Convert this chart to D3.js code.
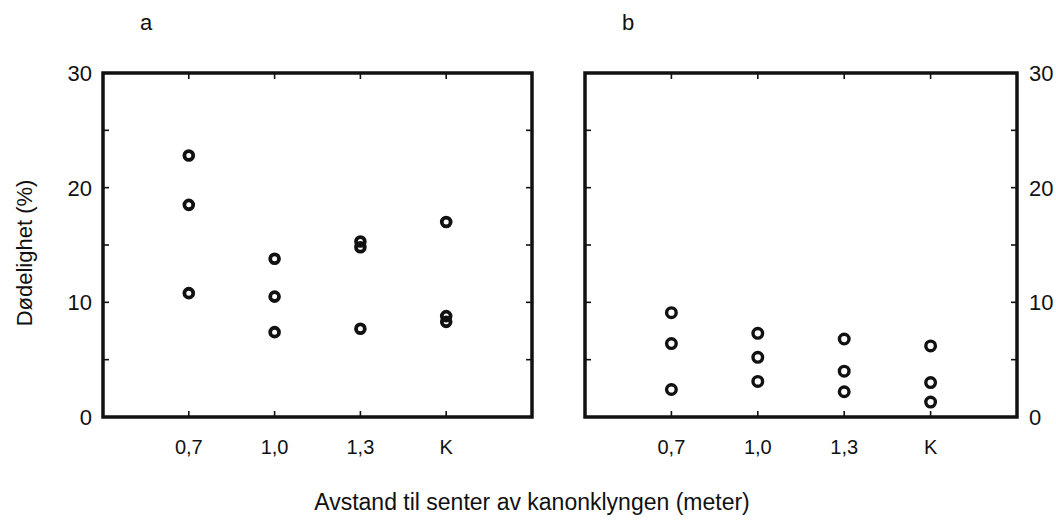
<!DOCTYPE html>
<html lang="no">
<head>
<meta charset="utf-8">
<script src="https://cdn.jsdelivr.net/npm/d3@7"></script>
<style>
  body { margin: 0; background: #fff; }
  text { font-family: "Liberation Sans", Arial, sans-serif; fill: #111; }
</style>
</head>
<body>
<div id="chart"></div>
<script>
// categories on the x axis
const categories = ["0,7", "1,0", "1,3", "K"];
const yTicks = [0, 10, 20, 30];
const allTicks = [0, 5, 10, 15, 20, 25, 30];

// mortality (%) per category, three replicates each
const panelA = [
  [22.8, 18.5, 10.8],
  [13.8, 10.5, 7.4],
  [15.3, 14.8, 7.7],
  [17.0, 8.8, 8.3]
];
const panelB = [
  [9.1, 6.4, 2.4],
  [7.3, 5.2, 3.1],
  [6.8, 4.0, 2.2],
  [6.2, 3.0, 1.3]
];

const W = 1056, H = 526;
const svg = d3.select("#chart").append("svg")
  .attr("width", W).attr("height", H);

const plotTop = 73, plotBottom = 417;
const y = d3.scaleLinear().domain([0, 30]).range([plotBottom, plotTop]);

function drawPanel(left, right, data, label, side, ring) {
  const x = d3.scaleLinear().domain([0, categories.length + 1]).range([left, right]);
  const g = svg.append("g");

  // tick marks pointing inward
  const tick = 6;
  g.selectAll(".yt").data(allTicks).enter().append("g").each(function (d) {
    const s = d3.select(this);
    s.append("line").attr("x1", left).attr("x2", left + tick)
      .attr("y1", y(d)).attr("y2", y(d)).attr("stroke", "#111").attr("stroke-width", 1.6);
    s.append("line").attr("x1", right).attr("x2", right - tick)
      .attr("y1", y(d)).attr("y2", y(d)).attr("stroke", "#111").attr("stroke-width", 1.6);
  });
  g.selectAll(".xt").data(categories).enter().append("g").each(function (d, i) {
    const s = d3.select(this);
    s.append("line").attr("x1", x(i + 1)).attr("x2", x(i + 1))
      .attr("y1", plotTop).attr("y2", plotTop + tick).attr("stroke", "#111").attr("stroke-width", 1.6);
    s.append("line").attr("x1", x(i + 1)).attr("x2", x(i + 1))
      .attr("y1", plotBottom).attr("y2", plotBottom - tick).attr("stroke", "#111").attr("stroke-width", 1.6);
  });

  // frame
  g.append("rect")
    .attr("x", left).attr("y", plotTop)
    .attr("width", right - left).attr("height", plotBottom - plotTop)
    .attr("fill", "none").attr("stroke", "#111").attr("stroke-width", 3.5);

  // x tick labels
  g.selectAll(".xl").data(categories).enter().append("text")
    .attr("x", (d, i) => x(i + 1))
    .attr("y", plotBottom + 37)
    .attr("text-anchor", "middle")
    .style("font-size", "20px")
    .text(d => d);

  // y tick labels
  g.selectAll(".yl").data(yTicks).enter().append("text")
    .attr("x", side === "left" ? left - 11 : right + 12)
    .attr("y", d => y(d))
    .attr("dy", "0.36em")
    .attr("text-anchor", side === "left" ? "end" : "start")
    .style("font-size", "22px")
    .text(d => d);

  // points
  const pts = [];
  data.forEach((vals, i) => vals.forEach(v => pts.push({ i: i, v: v })));
  g.selectAll("circle").data(pts).enter().append("circle")
    .attr("cx", d => x(d.i + 1))
    .attr("cy", d => y(d.v))
    .attr("r", ring.r)
    .attr("fill", "none")
    .attr("stroke", "#111")
    .attr("stroke-width", ring.w);

  // panel letter
  svg.append("text")
    .attr("x", left + 43).attr("y", 30)
    .attr("text-anchor", "middle")
    .style("font-size", "22px")
    .text(label);
}

drawPanel(103, 532, panelA, "a", "left", { r: 4.4, w: 3.8 });
drawPanel(585, 1017, panelB, "b", "right", { r: 4.8, w: 3.4 });

// axis titles
svg.append("text")
  .attr("transform", "translate(32,253) rotate(-90)")
  .attr("text-anchor", "middle")
  .style("font-size", "22px")
  .text("Dødelighet (%)");

svg.append("text")
  .attr("x", 532).attr("y", 510)
  .attr("text-anchor", "middle")
  .style("font-size", "23px")
  .text("Avstand til senter av kanonklyngen (meter)");
</script>
</body>
</html>
